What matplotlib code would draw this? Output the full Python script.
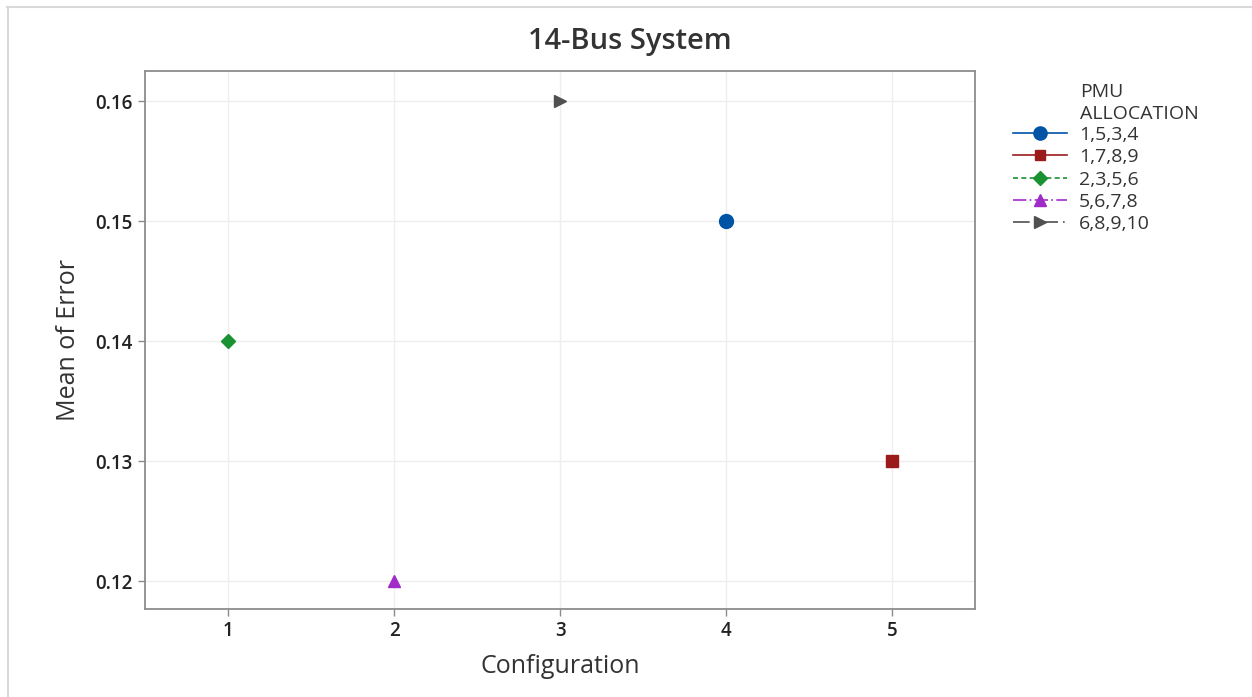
import matplotlib
matplotlib.use("Agg")
import matplotlib.pyplot as plt
from matplotlib.lines import Line2D

plt.rcParams['font.family'] = ['Open Sans', 'DejaVu Sans']

labels = ["1,5,3,4", "1,7,8,9", "2,3,5,6", "5,6,7,8", "6,8,9,10"]
config = [4, 5, 1, 2, 3]
mean_error = [0.15, 0.13, 0.14, 0.12, 0.16]
colors = ["#0054A6", "#9B1B1B", "#1B9232", "#A02BC8", "#505050"]
markers = ["o", "s", "D", "^", ">"]
msizes = [10, 8, 7, 9, 9]
dashes = [None, None, (3, 2), (8, 2, 1, 2), (10, 3, 1, 3)]
xticks = [1, 2, 3, 4, 5]
yticks = [0.12, 0.13, 0.14, 0.15, 0.16]

fig = plt.figure(figsize=(12.52, 6.97), dpi=100)
ax = fig.add_axes([145/1252, 1-609/697, 830/1252, 538/697])

for x, y, c, m, s in zip(config, mean_error, colors, markers, msizes):
    ax.plot([x], [y], marker=m, color=c, markersize=s, linestyle='none', zorder=3)

ax.set_xlim(0.5, 5.5)
ax.set_ylim(0.11767, 0.1625)
ax.set_xticks(xticks)
ax.set_xticklabels([str(t) for t in xticks])
ax.set_yticks(yticks)
ax.set_yticklabels([f"{t:.2f}" for t in yticks])
ax.grid(True, color="#eeeeee", linewidth=1.0)
ax.set_axisbelow(True)
for sp in ax.spines.values():
    sp.set_color("#8c8c8c")
    sp.set_linewidth(1.3)
ax.tick_params(direction='out', length=5, width=1, color="#8c8c8c",
               labelsize=13.5, labelcolor="#222222", pad=4)
for lab in ax.get_xticklabels() + ax.get_yticklabels():
    lab.set_fontweight('semibold')

ax.set_xlabel("Configuration", fontsize=18, color="#333333", labelpad=9)
ax.set_ylabel("Mean of Error", fontsize=18, color="#333333", labelpad=10)
fig.text(630/1252, 1-42/697, "14-Bus System", fontsize=21, color="#333333",
         fontweight='semibold', ha='center', va='center')

handles = []
for c, m, s, d in zip(colors, markers, msizes, dashes):
    h = Line2D([0], [0], color=c, marker=m, markersize=s*0.95, linewidth=1.2)
    if d is not None:
        h.set_dashes(d)
    handles.append(h)
leg = fig.legend(handles, labels, loc='upper left',
                 bbox_to_anchor=(1013/1252, 1-126/697), frameon=False,
                 fontsize=14, handlelength=2.8,
                 labelspacing=0.22, handletextpad=0.6, borderaxespad=0,
                 borderpad=0)
for t in leg.get_texts():
    t.set_color("#333333")
fig.text(1080/1252, 1-92/697, "PMU", fontsize=14, color="#333333",
         ha='left', va='center')
fig.text(1080/1252, 1-114/697, "ALLOCATION", fontsize=14, color="#333333",
         ha='left', va='center')

# figure frame lines (top and left)
fig.add_artist(Line2D([7/1252, 1], [1-6.5/697, 1-6.5/697], color="#d9d9d9", linewidth=1.5, transform=fig.transFigure))
fig.add_artist(Line2D([7.5/1252, 7.5/1252], [0, 1-6.5/697], color="#d9d9d9", linewidth=1.5, transform=fig.transFigure))

fig.savefig("out.png", dpi=100)
